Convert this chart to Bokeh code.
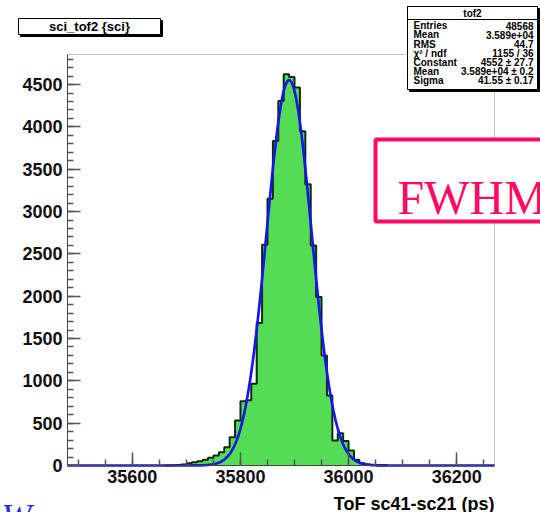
import numpy as np
from bokeh.plotting import figure
from bokeh.models import Range1d, SingleIntervalTicker, Label, BoxAnnotation, LinearAxis
from bokeh.embed import file_html
from bokeh.resources import INLINE

# ---------------- data ----------------
bin_left = [35660, 35670, 35680, 35690, 35700, 35710, 35720, 35730, 35740, 35750,
            35760, 35770, 35780, 35790, 35800, 35810, 35820, 35830, 35840, 35850,
            35860, 35870, 35880, 35890, 35900, 35910, 35920, 35930, 35940, 35950,
            35960, 35970, 35980, 35990, 36000, 36010, 36020, 36030, 36040, 36050,
            36060]
counts = [1, 3, 6, 12, 27, 39, 51, 67, 91, 118,
          157, 217, 335, 532, 760, 770, 966, 1682, 2609, 3152,
          3833, 4306, 4622, 4590, 4465, 3948, 3322, 2600, 1989, 1300,
          827, 296, 380, 290, 177, 67, 28, 12, 6, 3,
          1]
bin_width = 10
x_limits = [35480, 36270]
y_limits = [0, 4855]

# Gaussian fit parameters shown in the stats box
fit_constant = 4552.0
fit_mean = 35890.0
fit_sigma = 41.55

hist_title = "sci_tof2 {sci}"
stats_title = "tof2"
stats_names = ["Entries", "Mean", "RMS", "\u03c7\u00b2 / ndf", "Constant", "Mean", "Sigma"]
stats_values = ["48568", "3.589e+04", "44.7", "1155 / 36", "4552 \u00b1 27.7",
                "3.589e+04 \u00b1 0.2", "41.55 \u00b1 0.17"]
x_title = "ToF sc41-sc21 (ps)"
note_text = "FWHM"

# ---------------- layout ----------------
W, H = 540, 512
# pixel box of the histogram pad frame inside the canvas
FL, FR, FT, FB = 67, 494, 54, 465

sx_ = (FR - FL) / (x_limits[1] - x_limits[0])
sy_ = (FB - FT) / (y_limits[1] - y_limits[0])
xr = Range1d(x_limits[0] - FL / sx_, x_limits[1] + (W - FR) / sx_)
yr = Range1d(y_limits[0] - (H - FB) / sy_, y_limits[1] + FT / sy_)

p = figure(width=W, height=H, output_backend="svg", toolbar_location=None,
           x_range=xr, y_range=yr, x_axis_location=None, y_axis_location=None,
           min_border=0)
p.min_border_left = 0
p.min_border_right = 0
p.min_border_top = 0
p.min_border_bottom = 0
p.background_fill_color = "white"
p.border_fill_color = "white"
p.outline_line_color = None
p.xgrid.visible = False
p.ygrid.visible = False

xaxis = LinearAxis(fixed_location=y_limits[0], bounds=tuple(x_limits),
                   ticker=SingleIntervalTicker(interval=200, num_minor_ticks=4))
yaxis = LinearAxis(fixed_location=x_limits[0], bounds=tuple(y_limits),
                   ticker=SingleIntervalTicker(interval=500, num_minor_ticks=5))
for ax in (xaxis, yaxis):
    ax.axis_line_color = "#444444"
    ax.axis_line_width = 1
    ax.major_tick_in = 13
    ax.major_tick_out = 0
    ax.minor_tick_in = 6
    ax.minor_tick_out = 0
    ax.major_tick_line_color = "#555555"
    ax.minor_tick_line_color = "#555555"
    ax.major_tick_line_width = 1.5
    ax.minor_tick_line_width = 1.5
    ax.major_label_text_font = "Liberation Sans"
    ax.major_label_text_font_style = "bold"
    ax.major_label_text_font_size = "18px"
    ax.major_label_text_color = "#111111"
xaxis.major_label_standoff = 4
yaxis.major_label_standoff = 5
p.add_layout(xaxis, "below")
p.add_layout(yaxis, "left")

# pad frame box
p.add_layout(BoxAnnotation(left=x_limits[0], right=x_limits[1],
                           bottom=y_limits[0], top=y_limits[1],
                           fill_alpha=0, line_color="#333333", line_width=1,
                           level="underlay"))

# ---------------- histogram ----------------
lefts = np.array(bin_left, dtype=float)
rights = lefts + bin_width
vals = np.array(counts, dtype=float)

ox = [lefts[0]]
oy = [0.0]
for l, r, c in zip(lefts, rights, vals):
    ox += [l, r]
    oy += [c, c]
ox.append(rights[-1])
oy.append(0.0)
p.patch(ox, oy, fill_color="#54DC54", line_color=None)
p.line(ox, oy, line_color="#0E2A0E", line_width=2)

# fit curve
fx = np.linspace(x_limits[0], x_limits[1], 800)
fy = fit_constant * np.exp(-0.5 * ((fx - fit_mean) / fit_sigma) ** 2)
p.line(fx, fy, line_color="#1616E8", line_width=2.7)

# ---------------- annotations (canvas pixel helpers; frame == canvas) ----------------
def box(x0, y0, x1, y1, fill="white", line="black", lw=1):
    p.add_layout(BoxAnnotation(left=x0, right=x1, top=H - y0, bottom=H - y1,
                               left_units="screen", right_units="screen",
                               top_units="screen", bottom_units="screen",
                               fill_color=fill, fill_alpha=1.0,
                               line_color=line, line_width=lw, line_alpha=1.0,
                               level="overlay"))

def label(x, y, text, size="10px", align="left", baseline="middle", font="Liberation Sans",
          style="bold", color="black"):
    p.add_layout(Label(x=x, y=H - y, x_units="screen", y_units="screen", text=text,
                       text_font=font, text_font_style=style, text_font_size=size,
                       text_align=align, text_baseline=baseline, text_color=color,
                       level="overlay"))

# histogram title box
box(20, 20, 162, 36, fill="black", line="black")
box(18, 18, 160, 34)
label(89, 26, hist_title, size="13px", align="center")

# stats box
box(409, 8, 539, 91, fill="black", line="black")
box(407, 6, 537, 89)
box(407, 6, 537, 19, fill="white", line="black")
label(472, 12.7, stats_title, size="10px", align="center")
row_y = [25.3, 34.3, 43.7, 52.5, 61.7, 71.0, 80.3]
for yy, n, v in zip(row_y, stats_names, stats_values):
    label(413, yy, n, size="10px", align="left")
    label(533, yy, v, size="10px", align="right")

# FWHM note box
box(375, 139, 600, 221, fill="white", line="#FF0A66", lw=4)
label(397, 197, note_text, size="48px", align="left", baseline="alphabetic",
      font="Liberation Serif", style="normal", color="#FF0A66")

# x axis title
label(494, 503, x_title, size="18px", align="right", baseline="alphabetic")

# blue text cut by the bottom edge (as in the reference)
label(1, 496, "W", size="36px", align="left", baseline="top",
      font="Liberation Serif", style="italic", color="#2A2AF0")

open("out.html", "w").write(file_html(p, INLINE))
